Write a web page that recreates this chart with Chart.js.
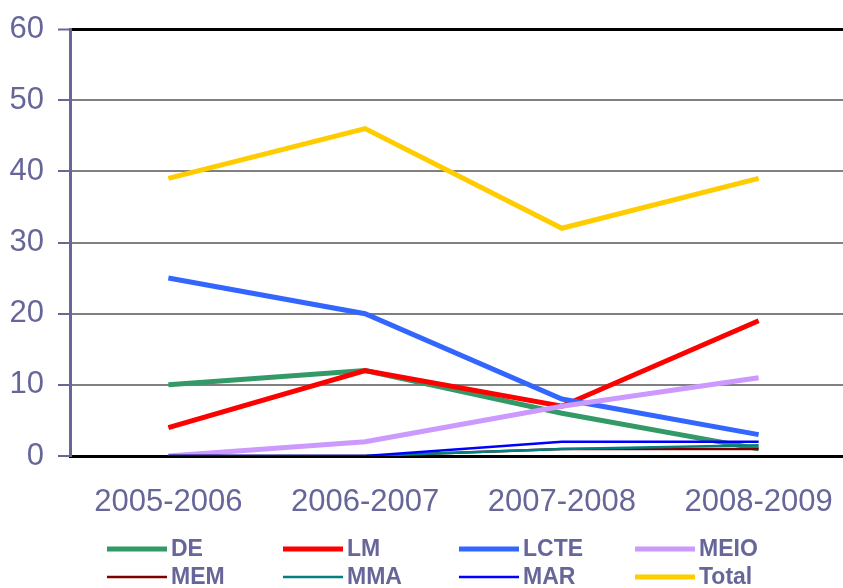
<!DOCTYPE html>
<html>
<head>
<meta charset="utf-8">
<script src="https://cdn.jsdelivr.net/npm/chart.js@4.4.1/dist/chart.umd.min.js"></script>
<style>
  html, body { margin: 0; padding: 0; overflow: hidden; background: #fff; }
  #wrap { width: 860px; height: 588px; }
</style>
</head>
<body>
<div id="wrap"><canvas id="chart" width="860" height="588"></canvas></div>
<script>
const years = ['2005-2006', '2006-2007', '2007-2008', '2008-2009'];
const seriesNames = ['DE', 'LM', 'LCTE', 'MEIO', 'MEM', 'MMA', 'MAR', 'Total'];
const de = [10, 12, 6, 1];
const lm = [4, 12, 7, 19];
const lcte = [25, 20, 8, 3];
const meio = [0, 2, 7, 11];
const mem = [0, 0, 1, 1];
const mma = [0, 0, 1, 1.5];
const mar = [0, 0, 2, 2];
const total = [39, 46, 32, 39];

const colors = ['#339966', '#FF0000', '#3366FF', '#CC99FF', '#800000', '#008080', '#0000FF', '#FFCC00'];
const widths = [5, 5, 5, 5, 2.5, 2.5, 2.5, 5];
const values = [de, lm, lcte, meio, mem, mma, mar, total];

const txtColor = '#666699';
const font = "Arial, 'Liberation Sans', sans-serif";

// legend in a fixed 4x2 grid like the original
const gridLegend = {
    id: 'gridLegend',
    afterDraw(chart) {
        const ctx = chart.ctx;
        ctx.save();
        ctx.font = 'bold 23px ' + font;
        ctx.textBaseline = 'middle';
        ctx.fillStyle = txtColor;
        chart.data.datasets.forEach((ds, i) => {
            const col = i % 4, row = Math.floor(i / 4);
            const x = 107 + col * 176;
            const y = 549 + row * 28;
            ctx.strokeStyle = ds.borderColor;
            ctx.lineWidth = ds.borderWidth;
            ctx.beginPath();
            ctx.moveTo(x, y);
            ctx.lineTo(x + 60, y);
            ctx.stroke();
            ctx.fillText(ds.label, x + 64, y + 1);
        });
        ctx.restore();
    }
};

new Chart(document.getElementById('chart'), {
    type: 'line',
    data: {
        labels: years,
        datasets: seriesNames.map((name, i) => ({
            label: name,
            data: values[i],
            borderColor: colors[i],
            backgroundColor: colors[i],
            borderWidth: widths[i],
            pointRadius: 0,
            tension: 0,
            order: seriesNames.length - i
        }))
    },
    options: {
        responsive: false,
        animation: false,
        layout: { padding: { top: 29, right: 3, left: 0, bottom: 0 } },
        plugins: {
            legend: { display: false },
            tooltip: { enabled: false }
        },
        scales: {
            x: {
                offset: true,
                grid: { display: false },
                border: { display: true, color: '#000', width: 3 },
                ticks: { color: txtColor, font: { size: 31, family: font }, padding: 20, maxRotation: 0 },
                afterFit(s) { s.height = 132; }
            },
            y: {
                min: 0,
                max: 60,
                ticks: { stepSize: 10, color: txtColor, font: { size: 31, family: font }, padding: 14 },
                grid: {
                    color: c => (c.tick && (c.tick.value === 60 || c.tick.value === 0)) ? '#000' : '#808080',
                    lineWidth: c => (c.tick && c.tick.value === 60) ? 3 : 2,
                    tickColor: txtColor,
                    tickLength: 12,
                    tickWidth: 2
                },
                border: { color: txtColor, width: 3 },
                afterFit(s) { s.width = 70; s.paddingTop = 0; s.paddingBottom = 0; }
            }
        }
    },
    plugins: [gridLegend]
});
</script>
</body>
</html>
